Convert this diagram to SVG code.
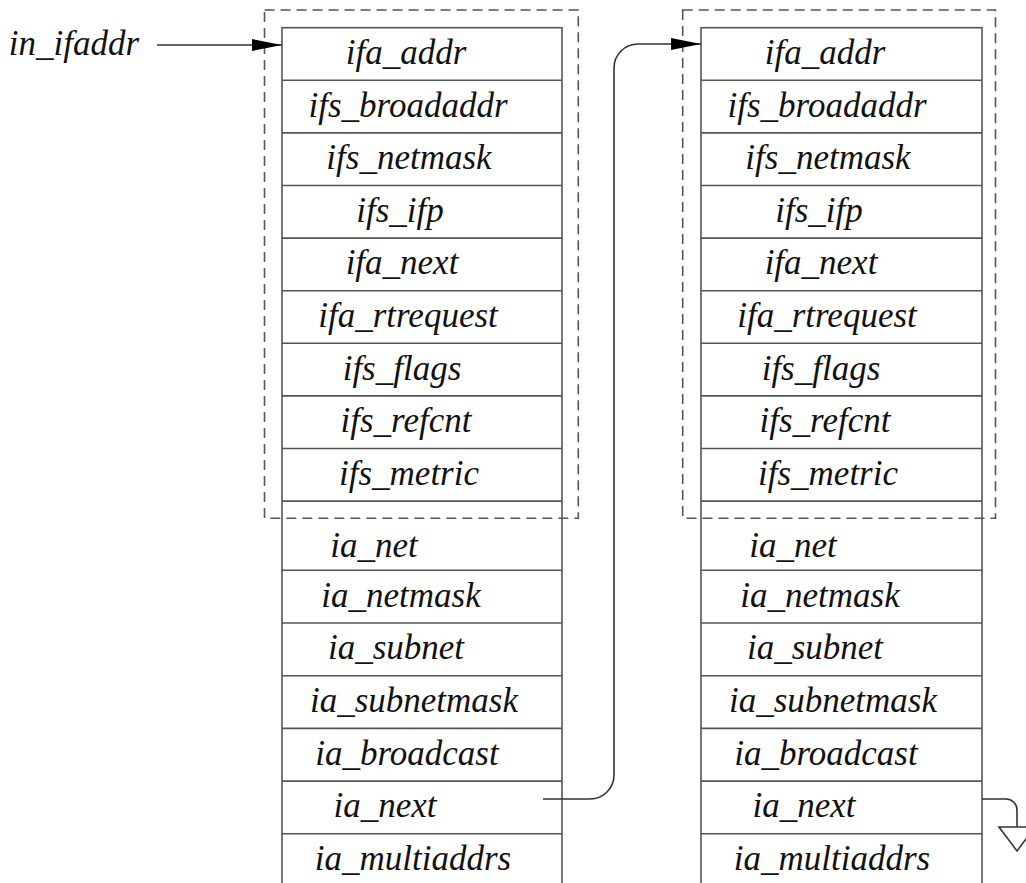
<svg xmlns="http://www.w3.org/2000/svg" width="1026" height="883" viewBox="0 0 1026 883">
<defs>
<style>
.cell{fill:#fff;stroke:#555;stroke-width:1.6}
.dash{fill:none;stroke:#555;stroke-width:1.6;stroke-dasharray:10 6}
.lbl{font-family:"Liberation Serif","Times New Roman",serif;font-style:italic;font-size:35px;fill:#111;text-anchor:middle}
.conn{fill:none;stroke:#333;stroke-width:1.6}
</style>
<marker id="ah" markerWidth="30" markerHeight="14" refX="30" refY="7" orient="auto" markerUnits="userSpaceOnUse">
<path d="M0,1 L30,7 L0,13 Z" fill="#000"/>
</marker>
</defs>
<rect width="1026" height="883" fill="#fff"/>
<g id="struct1">
<rect class="cell" x="282" y="27.7" width="280" height="870"/>
<path class="cell" d="M282,80.3H562M282,132.9H562M282,185.5H562M282,238.1H562M282,290.7H562M282,343.3H562M282,395.9H562M282,448.5H562M282,501.1H562M282,570.3H562M282,623H562M282,675.7H562M282,728.4H562M282,781.1H562M282,833.8H562"/>
<rect class="dash" x="264.5" y="10" width="313.8" height="508.2"/>
<g class="lbl">
<text x="406" y="64">ifa_addr</text>
<text x="408" y="116.6">ifs_broadaddr</text>
<text x="409" y="169.2">ifs_netmask</text>
<text x="400" y="221.8">ifs_ifp</text>
<text x="402" y="274.4">ifa_next</text>
<text x="408" y="327">ifa_rtrequest</text>
<text x="402" y="379.6">ifs_flags</text>
<text x="406" y="432.2">ifs_refcnt</text>
<text x="409" y="484.8">ifs_metric</text>
<text x="374" y="557">ia_net</text>
<text x="401" y="606.6">ia_netmask</text>
<text x="396" y="659.3">ia_subnet</text>
<text x="414" y="712">ia_subnetmask</text>
<text x="407" y="764.7">ia_broadcast</text>
<text x="385" y="817.4">ia_next</text>
<text x="413" y="870.1">ia_multiaddrs</text>
</g>
</g>
<g id="struct2">
<rect class="cell" x="701" y="27.7" width="281" height="870"/>
<path class="cell" d="M701,80.3H982M701,132.9H982M701,185.5H982M701,238.1H982M701,290.7H982M701,343.3H982M701,395.9H982M701,448.5H982M701,501.1H982M701,570.3H982M701,623H982M701,675.7H982M701,728.4H982M701,781.1H982M701,833.8H982"/>
<rect class="dash" x="682.7" y="10" width="312.8" height="508.2"/>
<g class="lbl">
<text x="825" y="64">ifa_addr</text>
<text x="827" y="116.6">ifs_broadaddr</text>
<text x="828" y="169.2">ifs_netmask</text>
<text x="819" y="221.8">ifs_ifp</text>
<text x="821" y="274.4">ifa_next</text>
<text x="827" y="327">ifa_rtrequest</text>
<text x="821" y="379.6">ifs_flags</text>
<text x="825" y="432.2">ifs_refcnt</text>
<text x="828" y="484.8">ifs_metric</text>
<text x="793" y="557">ia_net</text>
<text x="820" y="606.6">ia_netmask</text>
<text x="815" y="659.3">ia_subnet</text>
<text x="833" y="712">ia_subnetmask</text>
<text x="826" y="764.7">ia_broadcast</text>
<text x="804" y="817.4">ia_next</text>
<text x="832" y="870.1">ia_multiaddrs</text>
</g>
</g>
<g id="label_in_ifaddr">
<text class="lbl" x="74" y="55">in_ifaddr</text>
</g>
<g id="connectors">
<path class="conn" d="M157,45H282" marker-end="url(#ah)"/>
<path class="conn" d="M543,799H590A24,24 0 0 0 614,775V68A24,24 0 0 1 638,44H701" marker-end="url(#ah)"/>
<path class="conn" d="M982,799H1006A11,11 0 0 1 1017,810V827"/>
<path d="M999,827H1035L1017,851Z" fill="#fff" stroke="#333" stroke-width="1.6"/>
</g>
</svg>
